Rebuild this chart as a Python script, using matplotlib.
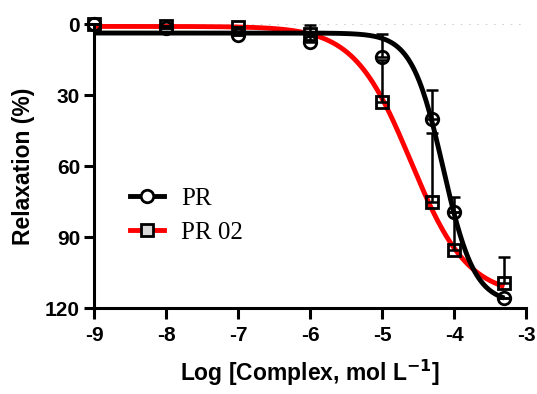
import numpy as np
import matplotlib
matplotlib.use("Agg")
import matplotlib.pyplot as plt

# ---- data ----
log_conc = [-9, -8, -7, -6, -5, -4.3, -4, -3.3]
pr_mean = [0, 1.5, 4.5, 7.4, 14, 40, 79.5, 115.8]
pr_err = [0, 0, 0, 7, 10, 12, 6.5, 0]
pr02_mean = [0, 1, 1.3, 4, 33, 75, 95.5, 109.5]
pr02_err = [0, 0, 0, 0, 18, 29, 16, 11]

# 4-parameter logistic fit parameters: bottom, top, logEC50, hill
pr_fit = [3.8, 118.0, -4.15, 2.0]
pr02_fit = [1.0, 115.0, -4.6, 1.1]

x_ticks = [-9, -8, -7, -6, -5, -4, -3]
y_ticks = [0, 30, 60, 90, 120]


def four_pl(x, p):
    bottom, top, ec50, hill = p
    return bottom + (top - bottom) / (1 + 10 ** ((ec50 - x) * hill))


fig = plt.figure(figsize=(5.37, 3.94), dpi=100)
ax = fig.add_axes([0.175, 0.218, 0.8045, 0.721])

xs = np.linspace(log_conc[0], log_conc[-1], 400)
ax.axhline(0, color="#c8c8c8", lw=1.2, ls=(0, (1, 4)), zorder=0)

ax.plot(xs, four_pl(xs, pr02_fit), color="#ff0000", lw=3.5, zorder=2, solid_capstyle="butt")
ax.plot(xs, four_pl(xs, pr_fit), color="black", lw=3.5, zorder=3, solid_capstyle="butt")

ax.errorbar(log_conc, pr02_mean, yerr=[pr02_err, [0] * len(pr02_err)], fmt="none",
            ecolor="black", elinewidth=1.8, capsize=4, capthick=1.8, zorder=4, clip_on=False)
ax.errorbar(log_conc, pr_mean, yerr=[pr_err, [0] * len(pr_err)], fmt="none",
            ecolor="black", elinewidth=1.8, capsize=4, capthick=1.8, zorder=4, clip_on=False)

ax.plot(log_conc, pr02_mean, ls="none", marker="s", ms=9, mfc="none", mec="black",
        mew=2, zorder=5, clip_on=False)
ax.plot(log_conc, pr_mean, ls="none", marker="o", ms=9, mfc="none", mec="black",
        mew=2, zorder=5, clip_on=False)

# legend proxies
h1, = ax.plot([], [], color="black", lw=3.5, marker="o", ms=9, mfc="white", mec="black", mew=2)
h2, = ax.plot([], [], color="#ff0000", lw=3.5, marker="s", ms=9, mfc="#d9d9d9", mec="black", mew=2)
leg = ax.legend([h1, h2], ["PR", "PR 02"], loc="center left", bbox_to_anchor=(0.083, 0.326),
                frameon=False, handlelength=1.35, handletextpad=0.7, labelspacing=0.45,
                borderpad=0, borderaxespad=0,
                prop={"family": "Liberation Serif", "size": 18})

ax.set_xlim(-9, -3)
ax.set_ylim(120, 0)
ax.set_xticks(x_ticks)
ax.set_yticks(y_ticks)
ax.set_xticklabels([str(t) for t in x_ticks])
ax.set_yticklabels([str(t) for t in y_ticks])

for s in ["top", "right"]:
    ax.spines[s].set_visible(False)
for s in ["left", "bottom"]:
    ax.spines[s].set_linewidth(2.2)
ax.spines["left"].set_bounds(120, 1.3)

ax.tick_params(axis="x", width=2.2, length=8, labelsize=15, pad=5)
ax.tick_params(axis="y", width=2.2, length=7, labelsize=15, pad=3)
for lab in ax.get_xticklabels() + ax.get_yticklabels():
    lab.set_fontweight("bold")
    lab.set_family("Liberation Sans")

ax.set_xlabel("Log [Complex, mol L$^{\\mathbf{-1}}$]", fontsize=16.5, fontweight="bold",
              family="Liberation Sans", labelpad=9)
ax.set_ylabel("Relaxation (%)", fontsize=16.5, fontweight="bold", family="Liberation Sans",
              labelpad=7)

fig.savefig("out.png", dpi=100)
